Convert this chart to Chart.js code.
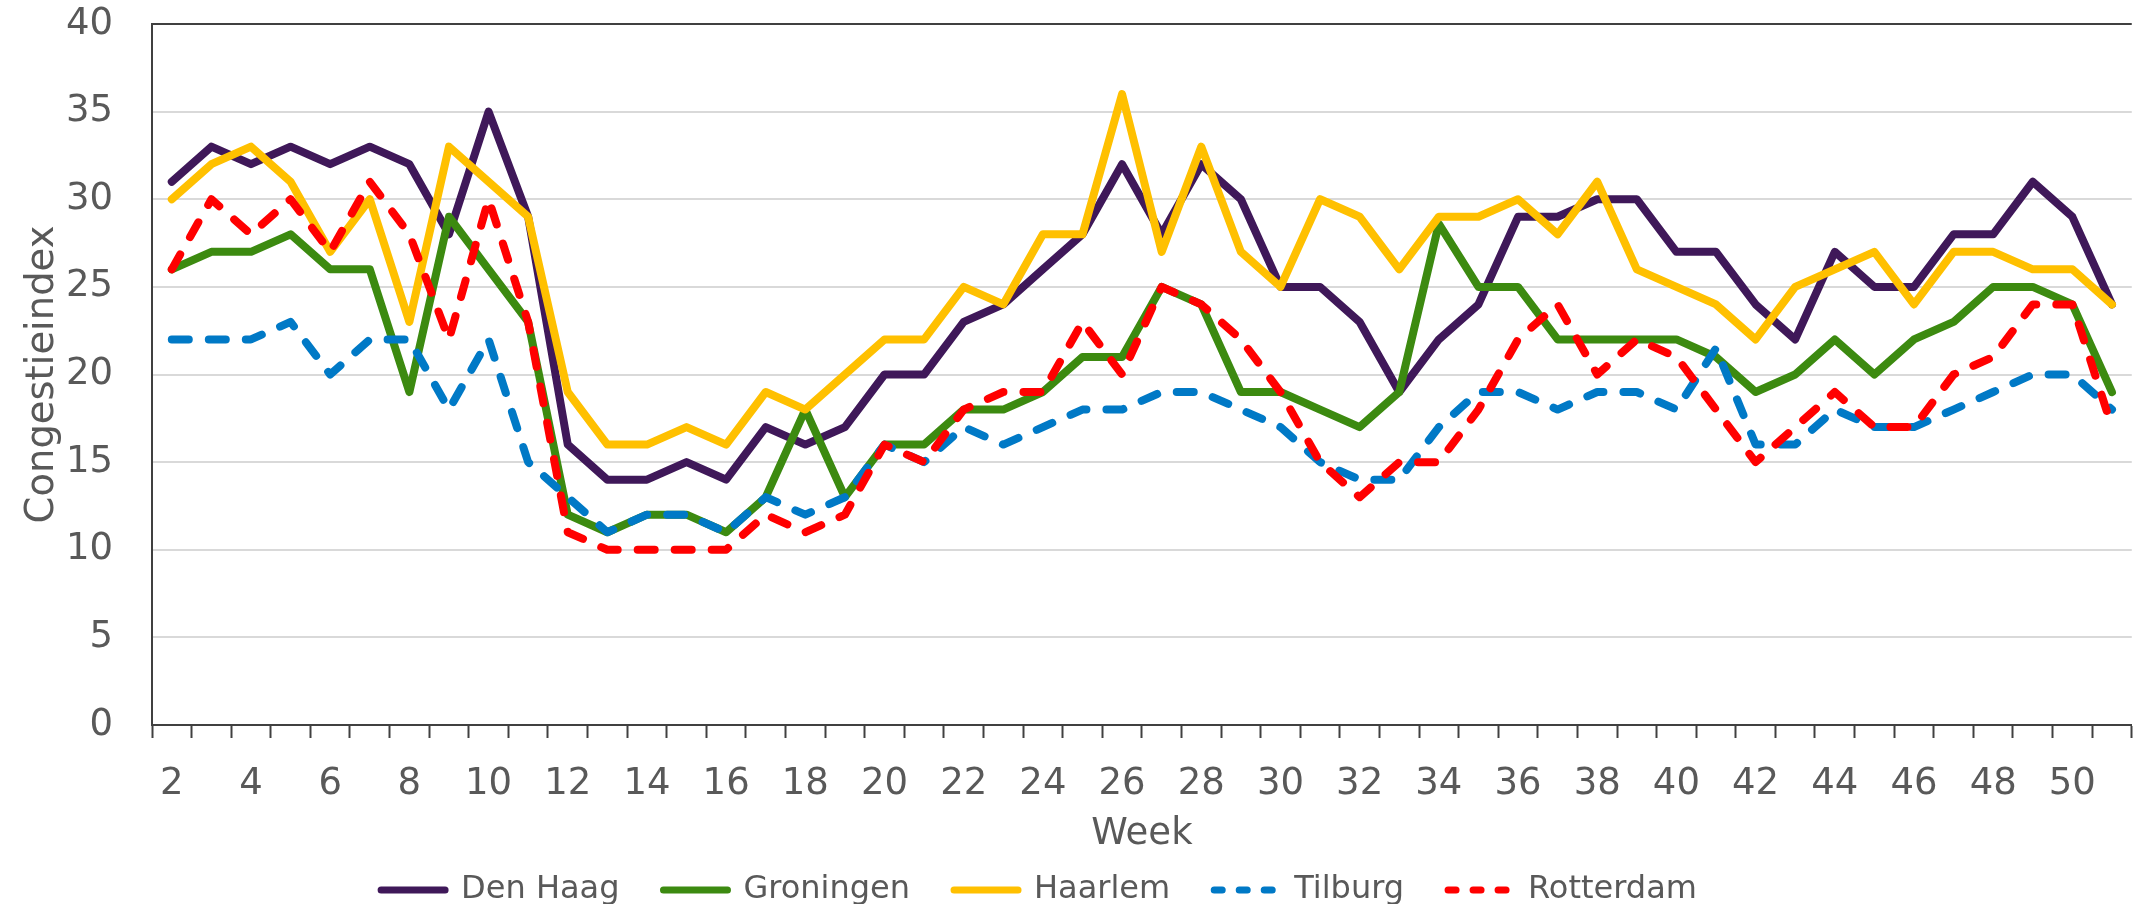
<!DOCTYPE html>
<html lang="nl">
<head>
<meta charset="UTF-8">
<title>Congestieindex per week</title>
<script src="https://cdn.jsdelivr.net/npm/chart.js"></script>
<style>
  * { box-sizing: border-box; margin: 0; padding: 0; }
  body { background: #fff; width: 2136px; height: 904px; overflow: hidden; }
  .wrap { position: relative; width: 2136px; height: 904px; }
</style>
</head>
<body>
<div class="wrap"><canvas id="grafiek"></canvas></div>

<script>
// weeknummers (categorieën)
const weeks = [2,3,4,5,6,7,8,9,10,11,12,13,14,15,16,17,18,19,20,21,22,23,24,25,26,27,28,29,30,31,32,33,34,35,36,37,38,39,40,41,42,43,44,45,46,47,48,49,50,51];

// congestieindex per stad
const denHaag   = [31,33,32,33,32,33,32,28,35,29, 16,14,14,15,14,17,16,17,20,20, 23,24,26,28,32,28,32,30,25,25, 23,19,22,24,29,29,30,30,27,27, 24,22,27,25,25,28,28,31,29,24];
const groningen = [26,27,27,28,26,26,19,29,26,23, 12,11,12,12,11,13,18,13,16,16, 18,18,19,21,21,25,24,19,19,18, 17,19,28.6,25,25,22,22,22,22,21, 19,20,22,20,22,23,25,25,24,19];
const haarlem   = [30,32,33,31,27,30,23,33,31,29, 19,16,16,17,16,19,18,20,22,22, 25,24,28,28,36,27,33,27,25,30, 29,26,29,29,30,28,31,26,25,24, 22,25,26,27,24,27,27,26,26,24];
const tilburg   = [22,22,22,23,20,22,22,18,22,15, 13,11,12,12,11,13,12,13,16,15, 17,16,17,18,18,19,19,18,17,15, 14,14,17,19,19,18,19,19,18,21.5, 16,16,18,17,17,18,19,20,20,18];
const rotterdam = [26,30,28,30,27,31,28,22,30,23, 11,10,10,10,10,12,11,12,16,15, 18,19,19,23,20,25,24,22,19,15, 13,15,15,18,22,24,20,22,21,18, 15,17,19,17,17,20,21,24,24,17];

const tekst = '#595959';
const lettertype = 'DejaVu Sans';
const dikte = 8;

function lijn(label, data, kleur, gestippeld, volgorde) {
  return {
    label: label,
    data: data,
    borderColor: kleur,
    backgroundColor: kleur,
    borderWidth: dikte,
    borderCapStyle: 'round',
    borderJoinStyle: 'round',
    borderDash: gestippeld ? [17, 20] : [],
    pointRadius: 0,
    tension: 0,
    fill: false,
    order: volgorde
  };
}

// legenda iets naar links schuiven, zoals in het origineel
const legendaSchuif = {
  id: 'legendaSchuif',
  afterLayout(chart) {
    if (chart.legend) chart.legend.left -= 74;
  }
};

const ctx = document.getElementById('grafiek').getContext('2d');
const grafiek = new Chart(ctx, {
  type: 'line',
  data: {
    labels: weeks,
    datasets: [
      lijn('Den Haag', denHaag, '#3f1859', false, 5),
      lijn('Groningen', groningen, '#3c8a10', false, 4),
      lijn('Haarlem', haarlem, '#ffc000', false, 3),
      lijn('Tilburg', tilburg, '#0079c6', true, 2),
      lijn('Rotterdam', rotterdam, '#ff0000', true, 1)
    ]
  },
  plugins: [legendaSchuif],
  options: {
    responsive: true,
    maintainAspectRatio: false,
    animation: false,
    layout: { padding: { left: 20, right: 4, top: 24, bottom: -12 } },
    scales: {
      x: {
        type: 'category',
        offset: true,
        afterFit: s => { s.height = 105; },
        grid: {
          offset: true,
          drawOnChartArea: false,
          drawTicks: true,
          tickLength: 13,
          tickWidth: 2,
          tickColor: '#404040'
        },
        border: { color: '#404040', width: 2 },
        ticks: {
          autoSkip: false,
          maxRotation: 0,
          padding: 24,
          color: tekst,
          font: { family: lettertype, size: 37 },
          callback: function (v, i) { return weeks[i] % 2 === 0 ? String(weeks[i]) : ''; }
        },
        title: {
          display: true,
          text: 'Week',
          color: tekst,
          font: { family: lettertype, size: 37 },
          padding: { top: 0, bottom: -27 }
        }
      },
      y: {
        min: 0,
        max: 40,
        afterFit: s => { s.width = 132; },
        grid: {
          drawTicks: true,
          tickLength: 38,
          tickColor: 'rgba(0,0,0,0)',
          lineWidth: 2,
          color: c => c.tick && c.tick.value === 40 ? '#404040' : '#d9d9d9'
        },
        border: { color: '#404040', width: 2 },
        ticks: {
          stepSize: 5,
          padding: 1,
          color: tekst,
          font: { family: lettertype, size: 37 }
        },
        title: {
          display: true,
          text: 'Congestieindex',
          color: tekst,
          font: { family: lettertype, size: 38.5 },
          padding: 0
        }
      }
    },
    plugins: {
      tooltip: { enabled: false },
      legend: {
        position: 'bottom',
        labels: {
          usePointStyle: true,
          pointStyle: 'line',
          pointStyleWidth: 64,
          padding: 44,
          color: tekst,
          font: { family: lettertype, size: 32 },
          sort: (a, b) => a.datasetIndex - b.datasetIndex,
          generateLabels: function (chart) {
            const items = Chart.defaults.plugins.legend.labels.generateLabels(chart);
            items.forEach(it => {
              const ds = chart.data.datasets[it.datasetIndex];
              it.lineWidth = 7;
              it.lineCap = 'round';
              it.strokeStyle = ds.borderColor;
              it.lineDash = ds.borderDash && ds.borderDash.length ? [8, 17] : [];
            });
            return items;
          }
        }
      }
    }
  }
});
</script>
</body>
</html>
